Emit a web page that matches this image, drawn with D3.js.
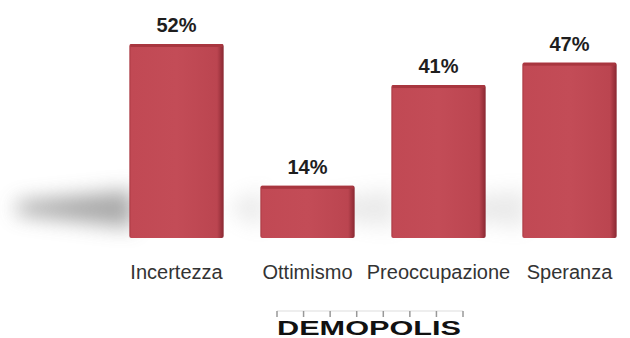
<!DOCTYPE html>
<html>
<head>
<meta charset="utf-8">
<script src="https://cdn.jsdelivr.net/npm/d3@7"></script>
<style>
    body { margin: 0; background: #fff; }
    svg { display: block; }
</style>
</head>
<body>
<div id="chart"></div>
<script>
// Chart data
const categories = ['Incertezza', 'Ottimismo', 'Preoccupazione', 'Speranza'];
const values = [52, 14, 41, 47];
const brand = 'DEMOPOLIS';

const width = 630;
const height = 338;

const svg = d3.select('#chart')
    .append('svg')
    .attr('width', width)
    .attr('height', height);

const defs = svg.append('defs');

// Soft shadow behind the bars
defs.append('filter')
    .attr('id', 'blur')
    .attr('x', '-50%').attr('y', '-100%')
    .attr('width', '200%').attr('height', '300%')
    .append('feGaussianBlur')
    .attr('stdDeviation', 10);

// Slight horizontal shading on the bar face
const grad = defs.append('linearGradient')
    .attr('id', 'barFace')
    .attr('x1', '0%').attr('x2', '100%')
    .attr('y1', '0%').attr('y2', '0%');
grad.append('stop').attr('offset', '0%').attr('stop-color', '#a8363f');
grad.append('stop').attr('offset', '2%').attr('stop-color', '#c14954');
grad.append('stop').attr('offset', '50%').attr('stop-color', '#c34c57');
grad.append('stop').attr('offset', '93%').attr('stop-color', '#bb4550');
grad.append('stop').attr('offset', '100%').attr('stop-color', '#8a2832');

// Scales
const x = d3.scaleBand()
    .domain(categories)
    .range([111, 635])
    .paddingInner(0.28)
    .paddingOuter(0.14);

const y = d3.scaleLinear()
    .domain([0, 52])
    .range([238, 44]);

const data = categories.map((c, i) => ({ name: c, value: values[i] }));

// Shadows (cast to the left)
svg.append('g')
    .selectAll('path')
    .data(data)
    .join('path')
    .attr('filter', 'url(#blur)')
    .attr('fill', '#8c8c8c')
    .attr('opacity', (d, i) => i === 0 ? 0.75 : 0.18)
    .attr('d', d => {
        const x0 = x(d.name) + 4;
        const len = (y(0) - y(d.value)) * 0.6;
        const yb = y(0) - 10;
        return `M${x0},${yb - 38} L${x0 - len},${yb - 26} L${x0 - len},${yb - 14} L${x0},${yb} Z`;
    });

// Bars
const bars = svg.append('g');

bars.selectAll('rect.face')
    .data(data)
    .join('rect')
    .attr('class', 'face')
    .attr('x', d => x(d.name))
    .attr('y', d => y(d.value))
    .attr('width', x.bandwidth())
    .attr('height', d => y(0) - y(d.value))
    .attr('rx', 2)
    .style('fill', 'url(#barFace)');

// Thin darker top edge
bars.selectAll('rect.top')
    .data(data)
    .join('rect')
    .attr('class', 'top')
    .attr('x', d => x(d.name) + 1)
    .attr('y', d => y(d.value))
    .attr('width', x.bandwidth() - 2)
    .attr('height', 3)
    .style('fill', '#a8363f');

// Value labels
svg.append('g')
    .selectAll('text')
    .data(data)
    .join('text')
    .attr('x', d => x(d.name) + x.bandwidth() / 2)
    .attr('y', d => y(d.value) - 12)
    .attr('text-anchor', 'middle')
    .style('font-family', '"Liberation Sans", Arial, sans-serif')
    .style('font-weight', 'bold')
    .style('font-size', '20px')
    .style('fill', '#1e1e1e')
    .text(d => d.value + '%');

// Category labels
svg.append('g')
    .selectAll('text')
    .data(data)
    .join('text')
    .attr('x', d => x(d.name) + x.bandwidth() / 2)
    .attr('y', 279)
    .attr('text-anchor', 'middle')
    .style('font-family', '"Liberation Sans", Arial, sans-serif')
    .style('font-size', '20px')
    .style('fill', '#333')
    .text(d => d.name);

// Logo with ruler ticks
const logo = svg.append('g');
const rx = d3.scaleLinear().domain([0, 7]).range([277, 463]);

logo.append('line')
    .attr('x1', rx(0)).attr('x2', rx(7))
    .attr('y1', 311).attr('y2', 311)
    .style('stroke', '#ddd')
    .style('stroke-width', 1);

logo.selectAll('line.tick')
    .data(d3.range(8))
    .join('line')
    .attr('class', 'tick')
    .attr('x1', d => rx(d)).attr('x2', d => rx(d))
    .attr('y1', 311).attr('y2', 317)
    .style('stroke', '#999')
    .style('stroke-width', 1.5);

logo.append('text')
    .attr('x', 277)
    .attr('y', 335)
    .attr('textLength', 184)
    .attr('lengthAdjust', 'spacingAndGlyphs')
    .style('font-family', '"Liberation Sans", Arial, sans-serif')
    .style('font-weight', 'bold')
    .style('font-size', '21px')
    .style('fill', '#111')
    .text(brand);
</script>
</body>
</html>
